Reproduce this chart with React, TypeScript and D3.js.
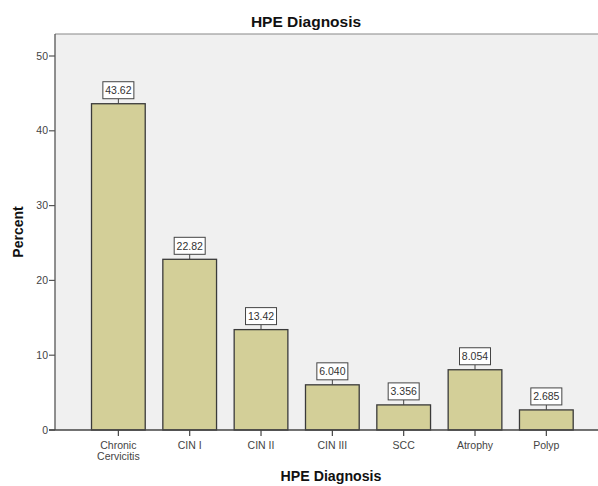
import * as d3 from 'd3';

const categories = ['Chronic Cervicitis', 'CIN I', 'CIN II', 'CIN III', 'SCC', 'Atrophy', 'Polyp'];
const percents = [43.62, 22.82, 13.42, 6.04, 3.356, 8.054, 2.685];
const valueLabels = ['43.62', '22.82', '13.42', '6.040', '3.356', '8.054', '2.685'];
const yTicks = [0, 10, 20, 30, 40, 50];

const width = 598;
const height = 486;
const font = 'Arial, "Liberation Sans", sans-serif';

export default function App() {
  const plotLeft = 55;
  const plotTop = 34;
  const plotBottom = 430;

  const x = d3
    .scaleBand<string>()
    .domain(categories)
    .range([82.7, 582])
    .paddingInner(0.247)
    .paddingOuter(0.1235);

  // 50 sits at y=56
  const y = d3.scaleLinear().domain([0, 50]).range([plotBottom, 56]);

  return (
    <svg
      width={width}
      height={height}
      style={{ position: 'absolute', left: 0, top: 0, background: '#fff' }}
      fontFamily={font}
    >
      <rect x={plotLeft} y={plotTop} width={width - plotLeft} height={plotBottom - plotTop} fill='#f0f0f0' />
      <line x1={plotLeft} x2={width} y1={plotTop} y2={plotTop} stroke='#888' strokeWidth={1.2} />

      <text x={306} y={27} textAnchor='middle' fontSize={15.5} fontWeight='bold' fill='#111'>
        HPE Diagnosis
      </text>

      {/* bars */}
      {categories.map((c, i) => {
        const bx = x(c) ?? 0;
        const top = y(percents[i]);
        const cx = bx + x.bandwidth() / 2;
        const boxW = 31;
        const boxH = 17;
        const boxBottom = top - 5;
        return (
          <g key={c}>
            <rect
              x={bx}
              y={top}
              width={x.bandwidth()}
              height={plotBottom - top}
              fill='#d3cf98'
              stroke='#3a3a3a'
              strokeWidth={1.3}
            />
            <line x1={cx} x2={cx} y1={boxBottom} y2={top} stroke='#444' strokeWidth={1} />
            <rect
              x={cx - boxW / 2}
              y={boxBottom - boxH}
              width={boxW}
              height={boxH}
              fill='#fff'
              stroke='#444'
              strokeWidth={1}
            />
            <text x={cx} y={boxBottom - 4.5} textAnchor='middle' fontSize={10.5} fill='#333'>
              {valueLabels[i]}
            </text>
          </g>
        );
      })}

      {/* y axis */}
      <line x1={plotLeft} x2={plotLeft} y1={plotTop} y2={plotBottom} stroke='#555' strokeWidth={1.3} />
      {yTicks.map((t) => (
        <g key={t}>
          <line x1={plotLeft - 6} x2={plotLeft} y1={y(t)} y2={y(t)} stroke='#555' strokeWidth={1.2} />
          <text x={plotLeft - 7} y={y(t) + 3.5} textAnchor='end' fontSize={10.5} fill='#444'>
            {t}
          </text>
        </g>
      ))}
      <text
        transform={`translate(23, 232) rotate(-90)`}
        textAnchor='middle'
        fontSize={14}
        fontWeight='bold'
        fill='#111'
      >
        Percent
      </text>

      {/* x axis */}
      <line x1={plotLeft - 6} x2={width} y1={plotBottom} y2={plotBottom} stroke='#444' strokeWidth={1.3} />
      {categories.map((c) => {
        const cx = (x(c) ?? 0) + x.bandwidth() / 2;
        const lines = c === 'Chronic Cervicitis' ? ['Chronic', 'Cervicitis'] : [c];
        return (
          <g key={c}>
            <line x1={cx} x2={cx} y1={plotBottom} y2={plotBottom + 6} stroke='#444' strokeWidth={1.2} />
            {lines.map((l, j) => (
              <text key={l} x={cx} y={plotBottom + 19 + j * 11} textAnchor='middle' fontSize={10.5} fill='#444'>
                {l}
              </text>
            ))}
          </g>
        );
      })}
      <text x={331} y={481} textAnchor='middle' fontSize={14.2} fontWeight='bold' fill='#111'>
        HPE Diagnosis
      </text>
    </svg>
  );
}
